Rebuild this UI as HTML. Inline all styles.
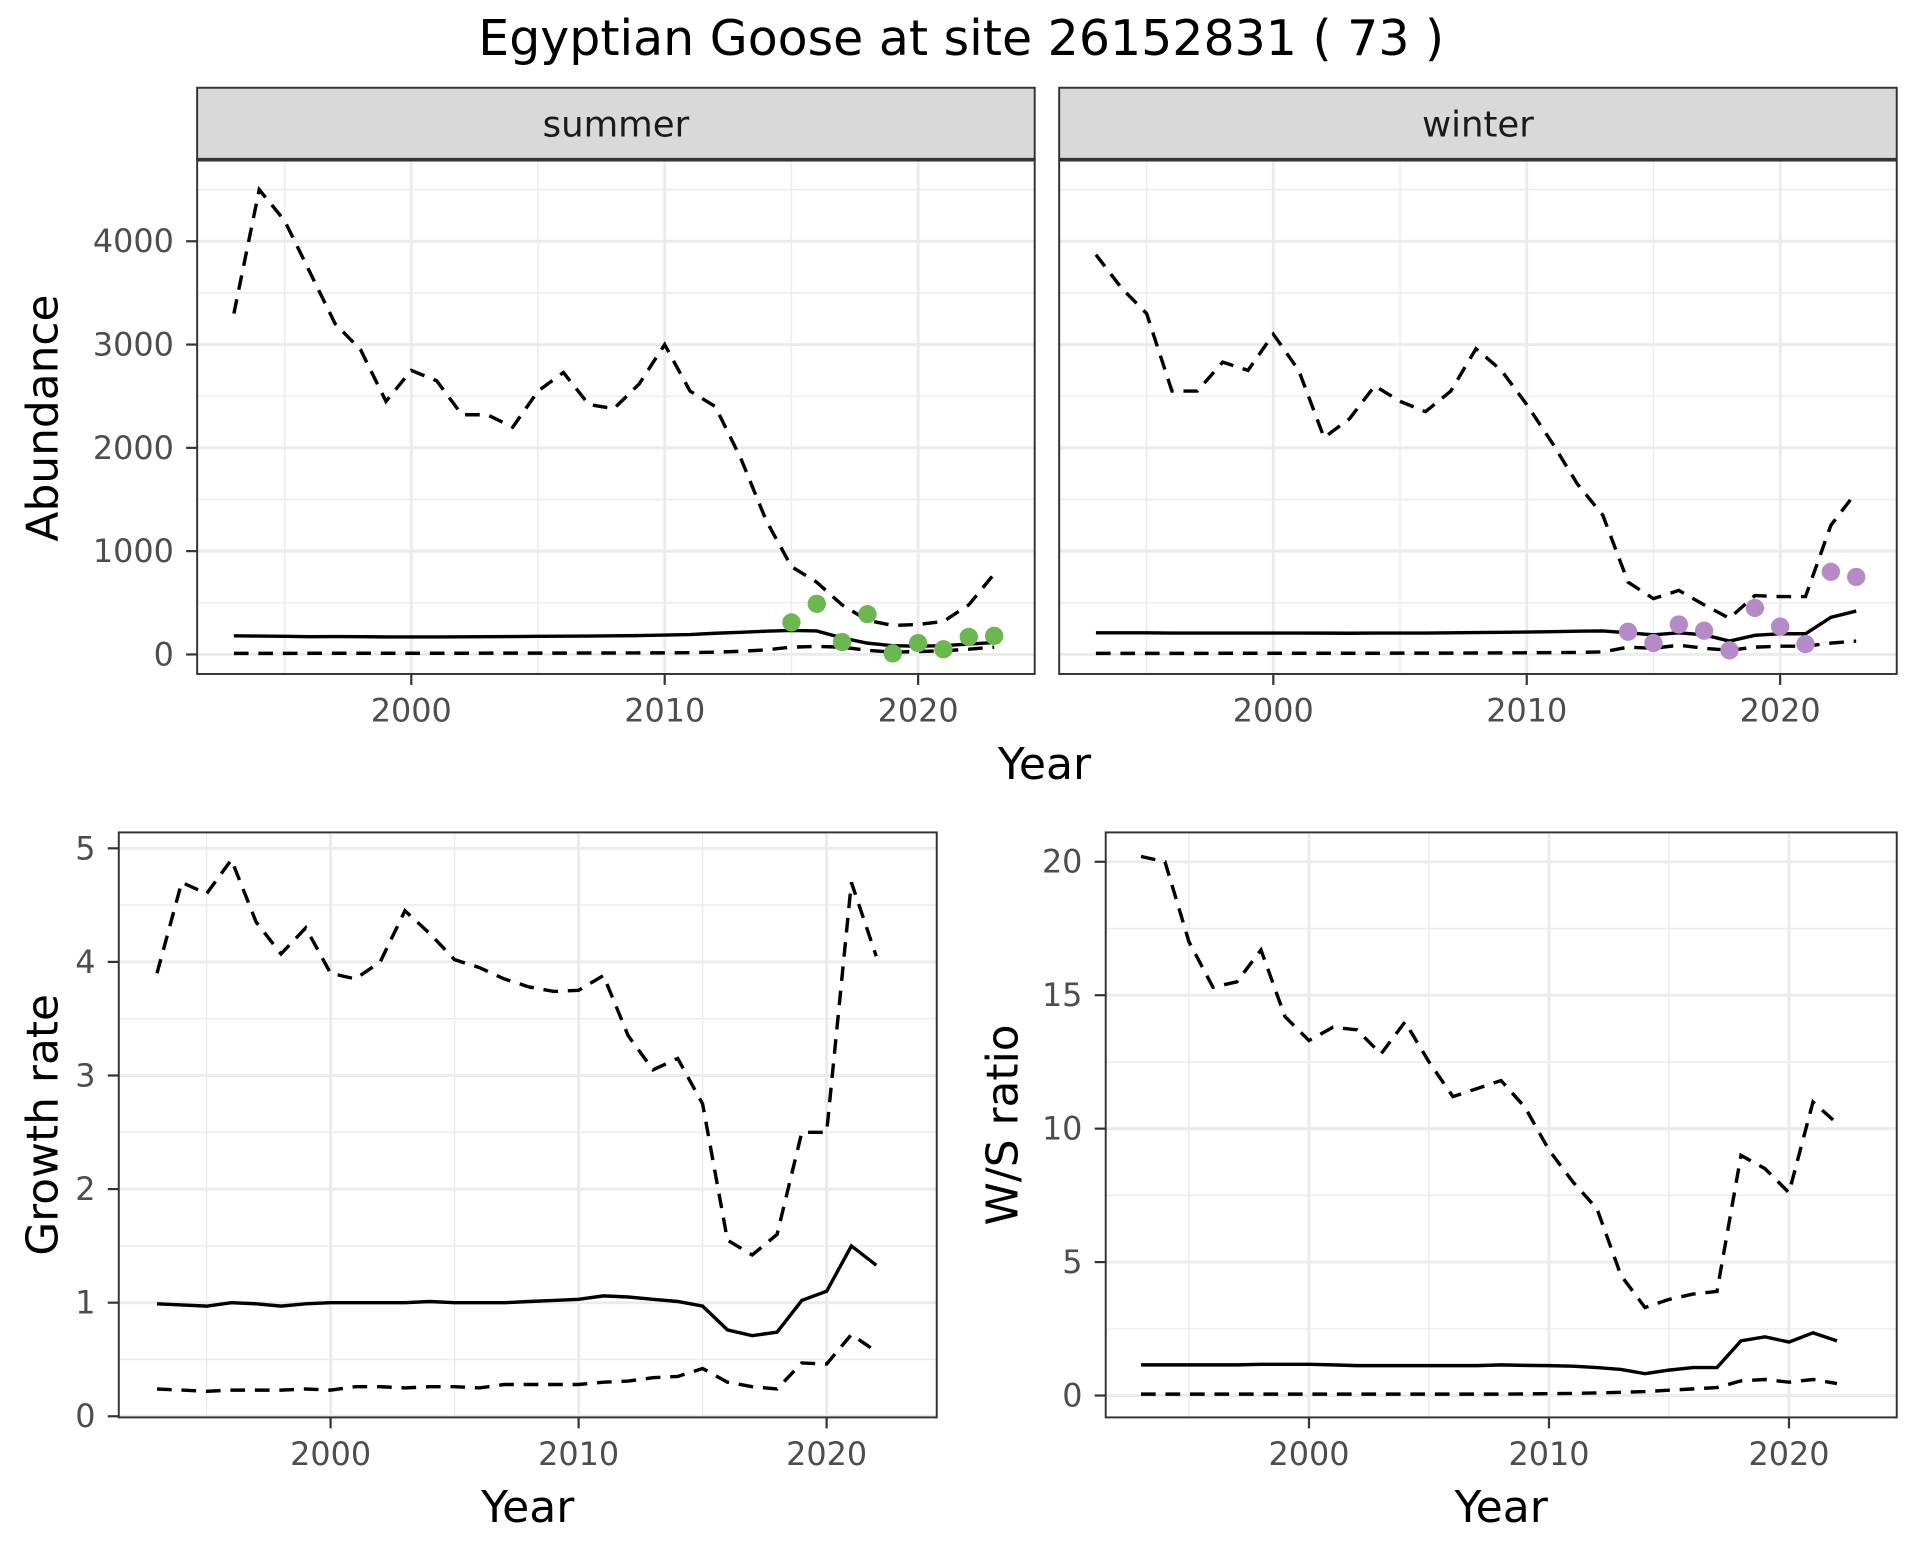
<!DOCTYPE html>
<html><head><meta charset="utf-8"><style>
html,body{margin:0;padding:0;background:#fff;}
svg{display:block;font-family:"DejaVu Sans","Liberation Sans",sans-serif;}
</style></head><body>
<svg id="fig" width="1920" height="1560" viewBox="0 0 1568 1280" preserveAspectRatio="none" xmlns="http://www.w3.org/2000/svg">
<text x="785" y="45" font-size="40" text-anchor="middle" fill="#000">Egyptian Goose at site 26152831 ( 73 )</text>
</svg>
<script>
const yearsA = [1993,1994,1995,1996,1997,1998,1999,2000,2001,2002,2003,2004,2005,2006,2007,2008,2009,2010,2011,2012,2013,2014,2015,2016,2017,2018,2019,2020,2021,2022,2023];
const summerUpper = [3300,4500,4200,3700,3200,2950,2450,2750,2650,2320,2320,2200,2550,2730,2420,2380,2620,3000,2550,2400,1900,1300,850,700,480,330,280,290,320,480,780];
const summerMean = [180,178,175,172,173,172,170,170,170,171,172,173,175,177,178,180,183,187,192,205,215,225,232,228,160,110,85,80,85,100,115];
const summerLower = [10,10,10,11,11,11,12,12,12,12,13,13,13,13,14,14,15,15,18,22,30,45,70,78,70,40,22,28,35,50,70];
const summerPtYears = [2015,2016,2017,2018,2019,2020,2021,2022,2023];
const summerPts = [310,490,120,390,10,110,50,170,180];
const winterUpper = [3870,3550,3300,2550,2550,2830,2750,3100,2750,2100,2280,2600,2450,2350,2550,2960,2750,2420,2050,1650,1350,700,540,620,480,350,570,560,560,1250,1570];
const winterMean = [210,210,210,208,208,207,207,207,207,206,205,207,208,208,210,212,215,217,220,225,228,210,190,210,190,130,185,200,200,360,420];
const winterLower = [10,10,10,10,10,11,11,11,12,12,12,12,13,13,13,14,15,16,18,20,25,70,60,90,60,40,70,80,80,110,130];
const winterPtYears = [2014,2015,2016,2017,2018,2019,2020,2021,2022,2023];
const winterPts = [220,110,290,230,40,450,270,100,800,750];
const yearsB = [1993,1994,1995,1996,1997,1998,1999,2000,2001,2002,2003,2004,2005,2006,2007,2008,2009,2010,2011,2012,2013,2014,2015,2016,2017,2018,2019,2020,2021,2022];
const growthUpper = [3.9,4.7,4.6,4.9,4.35,4.07,4.3,3.9,3.85,4.0,4.45,4.25,4.02,3.95,3.85,3.78,3.74,3.75,3.88,3.35,3.05,3.15,2.75,1.55,1.42,1.6,2.5,2.5,4.7,4.05];
const growthMean = [0.99,0.98,0.97,1.0,0.99,0.97,0.99,1.0,1.0,1.0,1.0,1.01,1.0,1.0,1.0,1.01,1.02,1.03,1.06,1.05,1.03,1.01,0.97,0.76,0.71,0.74,1.02,1.1,1.5,1.33];
const growthLower = [0.24,0.23,0.22,0.23,0.23,0.23,0.24,0.23,0.26,0.26,0.25,0.26,0.26,0.25,0.28,0.28,0.28,0.28,0.3,0.31,0.34,0.35,0.42,0.3,0.26,0.24,0.47,0.46,0.72,0.57];
const wsUpper = [20.2,20.0,17,15.3,15.5,16.7,14.2,13.3,13.8,13.7,12.8,14.0,12.5,11.2,11.5,11.8,10.8,9.2,8.0,7.0,4.5,3.3,3.6,3.8,3.9,9.0,8.5,7.6,11.0,10.2];
const wsMean = [1.15,1.15,1.15,1.15,1.15,1.17,1.17,1.17,1.15,1.12,1.12,1.12,1.12,1.12,1.12,1.15,1.13,1.12,1.1,1.05,0.98,0.82,0.95,1.05,1.05,2.05,2.2,2.0,2.35,2.05];
const wsLower = [0.05,0.05,0.05,0.05,0.05,0.05,0.05,0.05,0.05,0.05,0.05,0.05,0.05,0.05,0.05,0.05,0.06,0.07,0.08,0.1,0.12,0.15,0.2,0.25,0.3,0.55,0.6,0.5,0.6,0.45];
const xTicks = [2000,2010,2020];
const abTicks = [0,1000,2000,3000,4000];
const grTicks = [0,1,2,3,4,5];
const wsTicks = [0,5,10,15,20];

const NS='http://www.w3.org/2000/svg';
const svg=document.getElementById('fig');
function el(tag,attrs,parent){const e=document.createElementNS(NS,tag);for(const k in attrs)e.setAttribute(k,attrs[k]);(parent||svg).appendChild(e);return e;}

function panel(p){
  const g=el('g',{});
  
  
  const sx=v=>p.x0+(v-p.xmin)/(p.xmax-p.xmin)*(p.x1-p.x0);
  const sy=v=>p.y1-(v-p.ymin)/(p.ymax-p.ymin)*(p.y1-p.y0);
  el('rect',{x:p.x0,y:p.y0,width:p.x1-p.x0,height:p.y1-p.y0,fill:'#fff'},g);
  for(let i=0;i<xTicks.length+1;i++){const v=xTicks[0]-5+i*10;if(v>p.xmin&&v<p.xmax)el('line',{x1:sx(v),x2:sx(v),y1:p.y0,y2:p.y1,stroke:'#ebebeb','stroke-width':1.2},g);}
  const st=p.ticks[1]-p.ticks[0];
  for(let i=-1;i<=p.ticks.length;i++){const v=p.ticks[0]+st*(i+0.5);if(v>p.ymin&&v<p.ymax)el('line',{x1:p.x0,x2:p.x1,y1:sy(v),y2:sy(v),stroke:'#ebebeb','stroke-width':1.2},g);}
  xTicks.forEach(v=>{el('line',{x1:sx(v),x2:sx(v),y1:p.y0,y2:p.y1,stroke:'#ebebeb','stroke-width':2.4},g);
    if(p.xlabels){const t=el('text',{x:sx(v),y:p.y1+39,'font-size':26,'text-anchor':'middle',fill:'#4d4d4d'},g);t.textContent=v;
      
      }
    el('line',{x1:sx(v),x2:sx(v),y1:p.y1,y2:p.y1+9,stroke:'#333','stroke-width':1.8},g);});
  p.ticks.forEach(v=>{el('line',{x1:p.x0,x2:p.x1,y1:sy(v),y2:sy(v),stroke:'#ebebeb','stroke-width':2.4},g);
    if(p.ylabels){const t=el('text',{x:p.x0-19,y:sy(v)+9,'font-size':26,'text-anchor':'end',fill:'#4d4d4d'},g);t.textContent=v;
      
      
      el('line',{x1:p.x0-9,x2:p.x0,y1:sy(v),y2:sy(v),stroke:'#333','stroke-width':1.8},g);}});
  p.series.forEach(s=>{
    const d=s.vals.map((v,i)=>(i?'L':'M')+sx(s.years[i]).toFixed(1)+','+sy(v).toFixed(1)).join('');
    const path=el('path',{d:d,fill:'none',stroke:'#000','stroke-width':2.8,'stroke-dasharray':s.dash?'12,8':'none'},g);
    
    
  });
  if(p.pts){p.pts.vals.forEach((v,i)=>{const c=el('circle',{cx:sx(p.pts.years[i]),cy:sy(v),r:7.5,fill:p.pts.color},g);
    
    });}
  el('rect',{x:p.x0,y:p.y0,width:p.x1-p.x0,height:p.y1-p.y0,fill:'none',stroke:'#333','stroke-width':1.6},g);
  if(p.strip){const r=el('rect',{x:p.x0,y:p.y0-59,width:p.x1-p.x0,height:59,fill:'#d9d9d9',stroke:'#333','stroke-width':1.6},g);
    
    
    el('line',{x1:p.x0,x2:p.x1,y1:p.y0,y2:p.y0,stroke:'#333','stroke-width':3},g);
    const t=el('text',{x:(p.x0+p.x1)/2,y:p.y0-19,'font-size':29,'text-anchor':'middle',fill:'#1a1a1a'},g);t.textContent=p.strip;
    
    }
}
function label(txt,x,y,rot,name){const t=el('text',{x:x,y:y,'font-size':36,'text-anchor':'middle',fill:'#000',transform:rot?`rotate(-90 ${x} ${y})`:''});t.textContent=txt;
  
  }

panel({name:'summer-panel',x0:161,x1:845,y0:131,y1:553,xmin:1991.55,xmax:2024.6,ymin:-189,ymax:4790,ticks:abTicks,xlabels:true,ylabels:true,strip:'summer',
  series:[{years:yearsA,vals:summerUpper,dash:true,name:'summer-upper-ci'},{years:yearsA,vals:summerMean,dash:false,name:'summer-mean'},{years:yearsA,vals:summerLower,dash:true,name:'summer-lower-ci'}],
  pts:{years:summerPtYears,vals:summerPts,color:'#6ab84f'}});
panel({name:'winter-panel',x0:865,x1:1549,y0:131,y1:553,xmin:1991.55,xmax:2024.6,ymin:-189,ymax:4790,ticks:abTicks,xlabels:true,ylabels:false,strip:'winter',
  series:[{years:yearsA,vals:winterUpper,dash:true,name:'winter-upper-ci'},{years:yearsA,vals:winterMean,dash:false,name:'winter-mean'},{years:yearsA,vals:winterLower,dash:true,name:'winter-lower-ci'}],
  pts:{years:winterPtYears,vals:winterPts,color:'#b58ac6'}});
panel({name:'growth-panel',x0:97,x1:765,y0:683,y1:1163,xmin:1991.46,xmax:2024.44,ymin:-0.01,ymax:5.14,ticks:grTicks,xlabels:true,ylabels:true,
  series:[{years:yearsB,vals:growthUpper,dash:true,name:'growth-upper-ci'},{years:yearsB,vals:growthMean,dash:false,name:'growth-mean'},{years:yearsB,vals:growthLower,dash:true,name:'growth-lower-ci'}]});
panel({name:'ws-ratio-panel',x0:903,x1:1549,y0:683,y1:1163,xmin:1991.53,xmax:2024.49,ymin:-0.82,ymax:21.1,ticks:wsTicks,xlabels:true,ylabels:true,
  series:[{years:yearsB,vals:wsUpper,dash:true,name:'ws-upper-ci'},{years:yearsB,vals:wsMean,dash:false,name:'ws-mean'},{years:yearsB,vals:wsLower,dash:true,name:'ws-lower-ci'}]});
label('Year',853,639,false,'top-x-axis-title');
label('Abundance',47,343,true,'abundance-y-axis-title');
label('Year',431,1249,false,'growth-x-axis-title');
label('Growth rate',47,923,true,'growth-y-axis-title');
label('Year',1226,1249,false,'ws-x-axis-title');
label('W/S ratio',831,923,true,'ws-y-axis-title');
</script>
</body></html>
